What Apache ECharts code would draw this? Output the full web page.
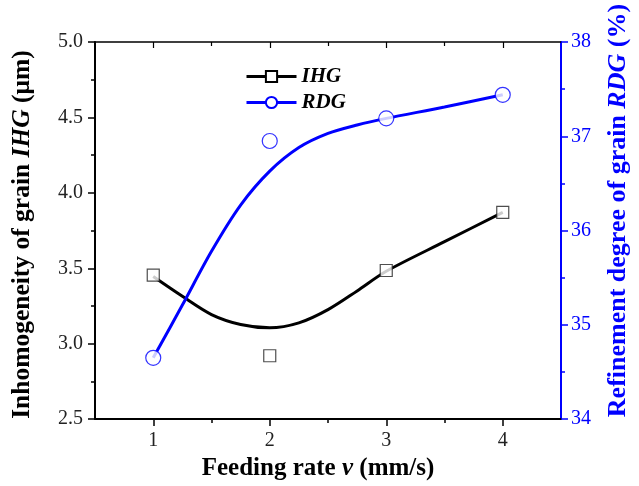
<!DOCTYPE html>
<html>
<head>
<meta charset="utf-8">
<script src="https://cdn.jsdelivr.net/npm/echarts@6/dist/echarts.min.js"></script>
<style>html,body{margin:0;padding:0;background:#fff}#c{width:639px;height:486px}</style>
</head>
<body>
<div id="c"></div>
<script>
// measured points
var feedRate = [1, 2, 3, 4];
var ihgPoints = [3.455, 2.92, 3.485, 3.87];
var rdgPoints = [34.65, 36.95, 37.19, 37.44];
// fitted curves
var curveX = [1, 1.25, 1.5, 1.75, 2, 2.25, 2.5, 2.75, 3, 3.5, 4];
var ihgCurve = [3.445, 3.314, 3.193, 3.127, 3.105, 3.138, 3.226, 3.35, 3.48, 3.676, 3.87];
var rdgCurve = [34.65, 35.21, 35.78, 36.27, 36.63, 36.88, 37.03, 37.12, 37.19, 37.31, 37.44];
// ticks
var xMajorTicks = [1, 2, 3, 4];
var xMinorTicks = [1.5, 2.5, 3.5];

function pairs(xs, ys) { return xs.map(function (x, i) { return [x, ys[i]]; }); }

var SERIF = '"Liberation Serif","Times New Roman",serif';
var BLUE = '#0000ff';
var chart = echarts.init(document.getElementById('c'), null, {renderer: 'canvas'});

var baseX = {
  type: 'value', min: 0.5, max: 4.5, gridIndex: 0,
  splitLine: {show: false}
};

chart.setOption({
  backgroundColor: '#fff',
  animation: false,
  grid: {left: 95, right: 78, top: 42, bottom: 64, containLabel: false},
  legend: {
    orient: 'vertical', left: 240, top: 61,
    itemWidth: 50, itemHeight: 14, itemGap: 5,
    data: ['IHG', 'RDG'],
    lineStyle: {width: 3},
    textStyle: {fontFamily: SERIF, fontWeight: 'bold', fontStyle: 'italic', fontSize: 21, color: '#000'}
  },
  xAxis: [
    Object.assign({}, baseX, {
      position: 'bottom',
      name: 'Feeding rate {i|v} (mm/s)', nameLocation: 'middle', nameGap: 35,
      nameTextStyle: {fontFamily: SERIF, fontWeight: 'bold', fontSize: 25, color: '#000', padding: [0, 20, 0, 0],
        rich: {i: {fontFamily: SERIF, fontWeight: 'bold', fontStyle: 'italic', fontSize: 25, color: '#000'}}},
      axisLine: {show: true, onZero: false, lineStyle: {color: '#000', width: 2}},
      axisTick: {show: true, inside: false, length: 7, customValues: xMajorTicks, lineStyle: {color: '#000', width: 1.5}},
      axisLabel: {show: true, customValues: xMajorTicks, margin: 12, fontFamily: SERIF, fontSize: 20, color: '#222'}
    }),
    Object.assign({}, baseX, {
      position: 'bottom',
      axisLine: {show: false},
      axisTick: {show: true, inside: false, length: 4, customValues: xMinorTicks, lineStyle: {color: '#000', width: 1.5}},
      axisLabel: {show: false}
    }),
    Object.assign({}, baseX, {
      position: 'top',
      axisLine: {show: true, onZero: false, lineStyle: {color: '#000', width: 1.5}},
      axisTick: {show: true, inside: true, length: 6, customValues: xMajorTicks, lineStyle: {color: '#000', width: 1.2}},
      axisLabel: {show: false}
    }),
    Object.assign({}, baseX, {
      position: 'top',
      axisLine: {show: false},
      axisTick: {show: true, inside: true, length: 4, customValues: xMinorTicks, lineStyle: {color: '#000', width: 1.2}},
      axisLabel: {show: false}
    })
  ],
  yAxis: [
    {
      type: 'value', min: 2.5, max: 5.0, interval: 0.5, position: 'left',
      name: 'Inhomogeneity of grain {i|IHG} (μm)', nameLocation: 'middle', nameRotate: 90, nameGap: 60,
      nameTextStyle: {fontFamily: SERIF, fontWeight: 'bold', fontSize: 25.5, color: '#000', padding: [0, 8, 0, 0],
        rich: {i: {fontFamily: SERIF, fontWeight: 'bold', fontStyle: 'italic', fontSize: 25.5, color: '#000'}}},
      splitLine: {show: false},
      axisLine: {show: true, onZero: false, lineStyle: {color: '#000', width: 2}},
      axisTick: {show: true, inside: false, length: 7, lineStyle: {color: '#000', width: 1.5}},
      minorTick: {show: true, splitNumber: 2, length: 4, lineStyle: {color: '#000', width: 1.5}},
      axisLabel: {margin: 12, fontFamily: SERIF, fontSize: 20, color: '#222',
        formatter: function (v) { return v.toFixed(1); }}
    },
    {
      type: 'value', min: 34, max: 38, interval: 1, position: 'right',
      name: 'Refinement degree of grain {i|RDG} (%)', nameLocation: 'middle', nameRotate: 90, nameGap: 44,
      nameTextStyle: {fontFamily: SERIF, fontWeight: 'bold', fontSize: 26, color: BLUE, padding: [0, 0, 0, 40],
        rich: {i: {fontFamily: SERIF, fontWeight: 'bold', fontStyle: 'italic', fontSize: 26, color: BLUE}}},
      splitLine: {show: false},
      axisLine: {show: true, onZero: false, lineStyle: {color: BLUE, width: 2}},
      axisTick: {show: true, inside: false, length: 7, lineStyle: {color: BLUE, width: 1.5}},
      minorTick: {show: true, splitNumber: 2, length: 4, lineStyle: {color: BLUE, width: 1.5}},
      axisLabel: {margin: 10, fontFamily: SERIF, fontSize: 20, color: BLUE}
    }
  ],
  series: [
    {
      name: 'IHG', type: 'line', xAxisIndex: 0, yAxisIndex: 0,
      data: pairs(curveX, ihgCurve), smooth: 0.3,
      symbol: 'rect', symbolSize: 12, showSymbol: false,
      itemStyle: {color: '#fff', borderColor: '#000', borderWidth: 1},
      lineStyle: {color: '#000', width: 3}, z: 2
    },
    {
      name: 'RDG', type: 'line', xAxisIndex: 0, yAxisIndex: 1,
      data: pairs(curveX, rdgCurve), smooth: 0.3,
      symbol: 'circle', symbolSize: 14, showSymbol: false,
      itemStyle: {color: '#fff', borderColor: BLUE, borderWidth: 1},
      lineStyle: {color: BLUE, width: 3}, z: 2
    },
    {
      name: 'IHG points', type: 'scatter', xAxisIndex: 0, yAxisIndex: 0,
      data: pairs(feedRate, ihgPoints), symbol: 'rect', symbolSize: 12,
      itemStyle: {color: '#fff', borderColor: '#222', borderWidth: 1.2}, z: 5
    },
    {
      name: 'RDG points', type: 'scatter', xAxisIndex: 0, yAxisIndex: 1,
      data: pairs(feedRate, rdgPoints), symbol: 'circle', symbolSize: 15,
      itemStyle: {color: '#fff', borderColor: BLUE, borderWidth: 1.2}, z: 5
    }
  ]
});
</script>
</body>
</html>
